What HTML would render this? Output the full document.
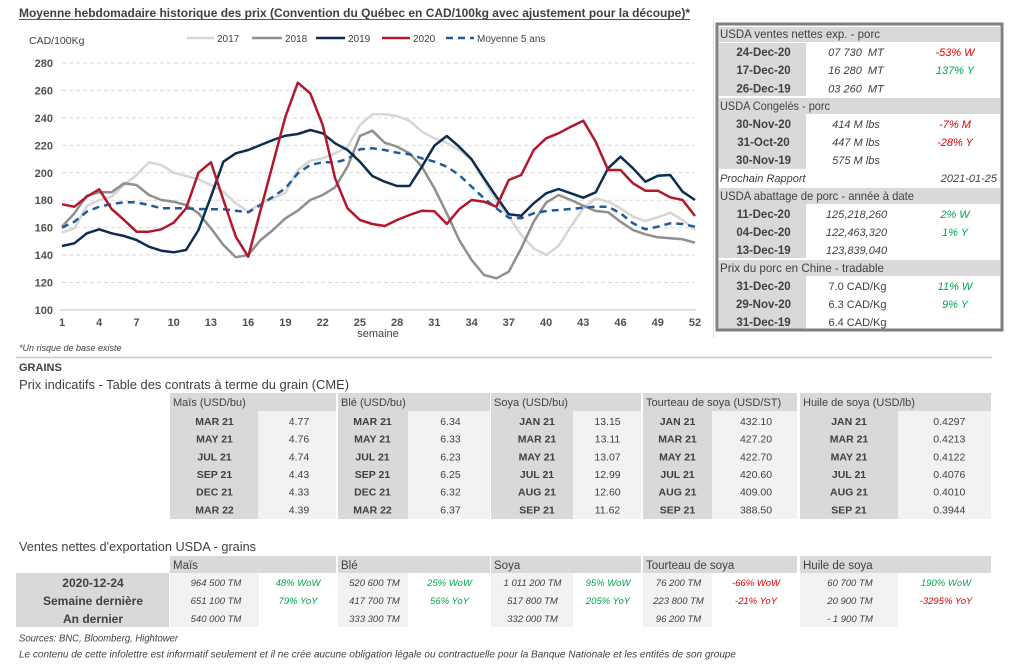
<!DOCTYPE html>
<html><head><meta charset="utf-8">
<style>
html,body{margin:0;padding:0;background:#fff;}
svg{display:block;font-family:"Liberation Sans","DejaVu Sans",sans-serif;}
.t{fill:#404040;}
.d{font-weight:bold;fill:#404040;text-anchor:middle;}
.v{fill:#404040;text-anchor:middle;}
.i{font-style:italic;}
.g{fill:#00a651;}
.r{fill:#e00000;}
</style></head>
<body>
<svg width="1024" height="671" viewBox="0 0 1024 671" xmlns="http://www.w3.org/2000/svg">
<rect x="0" y="0" width="1024" height="671" fill="#fff"/>

<!-- Title -->
<text x="19" y="17" font-size="12" font-weight="bold" class="t" textLength="671" lengthAdjust="spacingAndGlyphs">Moyenne hebdomadaire historique des prix (Convention du Québec en CAD/100kg avec ajustement pour la découpe)*</text>
<line x1="19" y1="19.5" x2="690" y2="19.5" stroke="#595959" stroke-width="1"/>

<!-- Chart -->
<text x="29" y="44" font-size="10.5" class="t">CAD/100Kg</text>
<g stroke="#d9d9d9" stroke-width="1" stroke-dasharray="4 3">
<line x1="62" y1="63" x2="695" y2="63"/>
<line x1="62" y1="90.4" x2="695" y2="90.4"/>
<line x1="62" y1="117.9" x2="695" y2="117.9"/>
<line x1="62" y1="145.3" x2="695" y2="145.3"/>
<line x1="62" y1="172.8" x2="695" y2="172.8"/>
<line x1="62" y1="200.2" x2="695" y2="200.2"/>
<line x1="62" y1="227.6" x2="695" y2="227.6"/>
<line x1="62" y1="255.1" x2="695" y2="255.1"/>
<line x1="62" y1="282.5" x2="695" y2="282.5"/>
</g>
<line x1="60" y1="310" x2="696" y2="310" stroke="#bfbfbf" stroke-width="1"/>
<g font-size="11" font-weight="bold" fill="#505050" text-anchor="end">
<text x="53" y="67">280</text>
<text x="53" y="94.4">260</text>
<text x="53" y="121.9">240</text>
<text x="53" y="149.3">220</text>
<text x="53" y="176.8">200</text>
<text x="53" y="204.2">180</text>
<text x="53" y="231.6">160</text>
<text x="53" y="259.1">140</text>
<text x="53" y="286.5">120</text>
<text x="53" y="314">100</text>
</g>
<g font-size="11" font-weight="bold" fill="#505050" text-anchor="middle">
<text x="62" y="326">1</text>
<text x="99.2" y="326">4</text>
<text x="136.5" y="326">7</text>
<text x="173.7" y="326">10</text>
<text x="210.9" y="326">13</text>
<text x="248.2" y="326">16</text>
<text x="285.4" y="326">19</text>
<text x="322.7" y="326">22</text>
<text x="359.9" y="326">25</text>
<text x="397.1" y="326">28</text>
<text x="434.4" y="326">31</text>
<text x="471.6" y="326">34</text>
<text x="508.8" y="326">37</text>
<text x="546.1" y="326">40</text>
<text x="583.3" y="326">43</text>
<text x="620.5" y="326">46</text>
<text x="657.8" y="326">49</text>
<text x="695" y="326">52</text>
</g>
<text x="378" y="337" font-size="11" class="t" text-anchor="middle">semaine</text>

<!-- Legend -->
<g font-size="10" class="t">
<line x1="187" y1="38" x2="214" y2="38" stroke="#d6d6d6" stroke-width="2.5"/>
<text x="217" y="42">2017</text>
<line x1="252" y1="38" x2="282" y2="38" stroke="#8f8f8f" stroke-width="2.5"/>
<text x="285" y="42">2018</text>
<line x1="316" y1="38" x2="345" y2="38" stroke="#0c2d4f" stroke-width="2.5"/>
<text x="348" y="42">2019</text>
<line x1="382" y1="38" x2="410" y2="38" stroke="#b2182b" stroke-width="2.5"/>
<text x="413" y="42">2020</text>
<line x1="446" y1="38" x2="474" y2="38" stroke="#215c98" stroke-width="2.5" stroke-dasharray="7 5"/>
<text x="477" y="42">Moyenne 5 ans</text>
</g>

<g fill="none" stroke-width="2.5" stroke-linejoin="round" stroke-linecap="butt">
<polyline stroke="#d6d6d6" points="62,232.7 74.4,228.3 86.8,206 99.2,200 111.6,196.7 124.1,185 136.5,175 148.9,162.3 161.3,165 173.7,172.7 186.1,176 198.5,179.3 210.9,185 223.4,191.7 235.8,203.3 248.2,211.7 260.6,203.3 273,198.3 285.4,192.7 297.8,170 310.2,160.7 322.7,158.3 335.1,153.3 347.5,146.7 359.9,125 372.3,114.3 384.7,114.3 397.1,116 409.5,120.7 421.9,131.7 434.4,138.3 446.8,142.7 459.2,150 471.6,160 484,180 496.4,201.7 508.8,216.7 521.2,235 533.7,248.3 546.1,255 558.5,246 570.9,226.7 583.3,208.3 595.7,198.3 608.1,201.7 620.5,208.3 633,216.7 645.4,221 657.8,217.3 670.2,212.7 682.6,220 695,230"/>
<polyline stroke="#8f8f8f" points="62,226.7 74.4,213.3 86.8,195.7 99.2,192.3 111.6,192.3 124.1,183.3 136.5,185 148.9,195 161.3,200 173.7,201.7 186.1,205 198.5,213.3 210.9,228.3 223.4,245 235.8,257.3 248.2,255 260.6,240 273,230 285.4,218.3 297.8,210.7 310.2,200 322.7,195 335.1,187.3 347.5,166.7 359.9,136 372.3,130.7 384.7,142.7 397.1,146.7 409.5,153.3 421.9,166.7 434.4,188.3 446.8,213.3 459.2,240 471.6,260 484,275 496.4,278.3 508.8,271.7 521.2,248.3 533.7,221.7 546.1,202.7 558.5,195 570.9,200 583.3,205.7 595.7,211 608.1,212.3 620.5,221.7 633,230 645.4,234.3 657.8,237.3 670.2,238.3 682.6,239.3 695,242.7"/>
<polyline stroke="#215c98" stroke-dasharray="7 5" points="62,227.7 74.4,221.7 86.8,211.7 99.2,206.7 111.6,204 124.1,202.3 136.5,202.3 148.9,205 161.3,208.3 173.7,208.3 186.1,208.3 198.5,209 210.9,209.3 223.4,209.3 235.8,210.7 248.2,212.3 260.6,205 273,196.7 285.4,188.3 297.8,173.3 310.2,165 322.7,162.3 335.1,162.3 347.5,159.3 359.9,149.3 372.3,148.3 384.7,150 397.1,152.7 409.5,154.3 421.9,158.3 434.4,161.7 446.8,166.7 459.2,175 471.6,186.7 484,198.3 496.4,208.3 508.8,217.7 521.2,218.3 533.7,213.3 546.1,211 558.5,210 570.9,209 583.3,207.7 595.7,206.7 608.1,206.7 620.5,213.3 633,223.3 645.4,229.3 657.8,226.7 670.2,223.3 682.6,224 695,226.7"/>
<polyline stroke="#0c2d4f" points="62,246 74.4,243.3 86.8,233.3 99.2,229.3 111.6,233.3 124.1,236 136.5,240 148.9,246.7 161.3,250.7 173.7,252.3 186.1,250 198.5,230 210.9,196.7 223.4,161.7 235.8,153.3 248.2,150 260.6,145 273,140 285.4,135.7 297.8,134 310.2,130 322.7,133.3 335.1,143.3 347.5,150 359.9,161.7 372.3,176 384.7,181.7 397.1,186 409.5,186 421.9,166.7 434.4,145.7 446.8,136 459.2,146.7 471.6,159.3 484,178.3 496.4,196.7 508.8,214.3 521.2,215.7 533.7,203.3 546.1,193.3 558.5,189 570.9,193.3 583.3,197.7 595.7,192.3 608.1,168.3 620.5,156.7 633,168.3 645.4,181.7 657.8,175.7 670.2,175 682.6,191.7 695,200"/>
<polyline stroke="#b2182b" points="62,204.3 74.4,206.7 86.8,196.7 99.2,189.3 111.6,209 124.1,220 136.5,231.7 148.9,231.7 161.3,229.3 173.7,222.7 186.1,208.3 198.5,172.7 210.9,162.3 223.4,200 235.8,236.7 248.2,256.7 260.6,210 273,163.3 285.4,116.7 297.8,82.7 310.2,93.3 322.7,125 335.1,178.3 347.5,208.3 359.9,220 372.3,224 384.7,226 397.1,220 409.5,215 421.9,210.7 434.4,211.3 446.8,224 459.2,209.3 471.6,200 484,201.7 496.4,206.7 508.8,180 521.2,175 533.7,150 546.1,138.3 558.5,133.3 570.9,126.7 583.3,120.7 595.7,141.7 608.1,170 620.5,170 633,183.3 645.4,190.7 657.8,190.7 670.2,197.3 682.6,200 695,216"/>
</g>

<!-- Right panel -->
<line x1="713.5" y1="20" x2="713.5" y2="338" stroke="#f2d4d4" stroke-width="1"/>
<g fill="#d9d9d9">
<rect x="719" y="27" width="281" height="15"/>
<rect x="719" y="43" width="87" height="53"/>
<rect x="719" y="98" width="281" height="16"/>
<rect x="719" y="114" width="87" height="55"/>
<rect x="719" y="188" width="281" height="16"/>
<rect x="719" y="204" width="87" height="54"/>
<rect x="719" y="260" width="281" height="16"/>
<rect x="719" y="276" width="87" height="54"/>
</g>
<rect x="717" y="24" width="285" height="306" fill="none" stroke="#7f7f7f" stroke-width="3"/>
<g font-size="12" class="t">
<text x="720" y="38" textLength="160" lengthAdjust="spacingAndGlyphs">USDA ventes nettes exp. - porc</text>
<text x="720" y="110" textLength="110" lengthAdjust="spacingAndGlyphs">USDA Congelés - porc</text>
<text x="720" y="200" textLength="194" lengthAdjust="spacingAndGlyphs">USDA abattage de porc - année à date</text>
<text x="720" y="272" textLength="164" lengthAdjust="spacingAndGlyphs">Prix du porc en Chine - tradable</text>
</g>
<g font-size="11.5">
<text x="763.5" y="56" class="d">24-Dec-20</text>
<text x="763.5" y="74" class="d">17-Dec-20</text>
<text x="763.5" y="92.5" class="d">26-Dec-19</text>
<text x="763.5" y="128" class="d">30-Nov-20</text>
<text x="763.5" y="146" class="d">31-Oct-20</text>
<text x="763.5" y="164" class="d">30-Nov-19</text>
<text x="763.5" y="218" class="d">11-Dec-20</text>
<text x="763.5" y="236" class="d">04-Dec-20</text>
<text x="763.5" y="254" class="d">13-Dec-19</text>
<text x="763.5" y="290" class="d">31-Dec-20</text>
<text x="763.5" y="308" class="d">29-Nov-20</text>
<text x="763.5" y="326" class="d">31-Dec-19</text>
</g>
<g font-size="11">
<text x="856" y="56" class="v i" xml:space="preserve">07 730  MT</text>
<text x="856" y="74" class="v i" xml:space="preserve">16 280  MT</text>
<text x="856" y="92.5" class="v i" xml:space="preserve">03 260  MT</text>
<text x="856" y="128" class="v i">414 M lbs</text>
<text x="856" y="146" class="v i">447 M lbs</text>
<text x="856" y="164" class="v i">575 M lbs</text>
<text x="856.5" y="218" class="v i">125,218,260</text>
<text x="856.5" y="236" class="v i">122,463,320</text>
<text x="856.5" y="254" class="v i">123,839,040</text>
<text x="857.5" y="290" class="v">7.0 CAD/Kg</text>
<text x="857.5" y="308" class="v">6.3 CAD/Kg</text>
<text x="857.5" y="326" class="v">6.4 CAD/Kg</text>
<text x="955" y="56" class="i r" text-anchor="middle">-53% W</text>
<text x="955" y="74" class="i g" text-anchor="middle">137% Y</text>
<text x="955" y="128" class="i r" text-anchor="middle">-7% M</text>
<text x="955" y="146" class="i r" text-anchor="middle">-28% Y</text>
<text x="955" y="218" class="i g" text-anchor="middle">2% W</text>
<text x="955" y="236" class="i g" text-anchor="middle">1% Y</text>
<text x="955" y="290" class="i g" text-anchor="middle">11% W</text>
<text x="955" y="308" class="i g" text-anchor="middle">9% Y</text>
<text x="720" y="182" class="t i">Prochain Rapport</text>
<text x="997" y="182" class="t i" text-anchor="end">2021-01-25</text>
</g>

<!-- Below chart -->
<text x="19" y="351" font-size="9" class="t i">*Un risque de base existe</text>
<line x1="16" y1="357.5" x2="992" y2="357.5" stroke="#c8c8c8" stroke-width="1.5"/>
<text x="19" y="371" font-size="11" font-weight="bold" class="t">GRAINS</text>
<text x="19" y="389" font-size="13" class="t" textLength="330" lengthAdjust="spacingAndGlyphs">Prix indicatifs - Table des contrats à terme du grain (CME)</text>

<!-- Grain table -->
<g fill="#d9d9d9">
<rect x="170" y="393" width="166" height="18"/>
<rect x="338" y="393" width="152" height="18"/>
<rect x="491" y="393" width="150" height="18"/>
<rect x="643" y="393" width="154" height="18"/>
<rect x="800" y="393" width="191" height="18"/>
<rect x="170" y="411" width="88.5" height="108"/>
<rect x="338" y="411" width="70" height="108"/>
<rect x="491" y="411" width="82" height="108"/>
<rect x="643" y="411" width="69" height="108"/>
<rect x="800" y="411" width="98" height="108"/>
</g>
<g fill="#f2f2f2">
<rect x="259" y="411" width="77" height="108"/>
<rect x="408" y="411" width="82" height="108"/>
<rect x="573" y="411" width="68" height="108"/>
<rect x="712" y="411" width="85" height="108"/>
<rect x="898" y="411" width="93" height="108"/>
</g>
<g font-size="11" class="t">
<text x="173" y="406">Maïs (USD/bu)</text>
<text x="341" y="406">Blé (USD/bu)</text>
<text x="494" y="406">Soya (USD/bu)</text>
<text x="646" y="406">Tourteau de soya (USD/ST)</text>
<text x="803" y="406">Huile de soya (USD/lb)</text>
</g>
<g font-size="10.5">
<text x="214.5" y="425" class="d">MAR 21</text><text x="299" y="425" class="v">4.77</text>
<text x="214.5" y="442.7" class="d">MAY 21</text><text x="299" y="442.7" class="v">4.76</text>
<text x="214.5" y="460.3" class="d">JUL 21</text><text x="299" y="460.3" class="v">4.74</text>
<text x="214.5" y="478" class="d">SEP 21</text><text x="299" y="478" class="v">4.43</text>
<text x="214.5" y="495.7" class="d">DEC 21</text><text x="299" y="495.7" class="v">4.33</text>
<text x="214.5" y="513.4" class="d">MAR 22</text><text x="299" y="513.4" class="v">4.39</text>

<text x="372.5" y="425" class="d">MAR 21</text><text x="450.5" y="425" class="v">6.34</text>
<text x="372.5" y="442.7" class="d">MAY 21</text><text x="450.5" y="442.7" class="v">6.33</text>
<text x="372.5" y="460.3" class="d">JUL 21</text><text x="450.5" y="460.3" class="v">6.23</text>
<text x="372.5" y="478" class="d">SEP 21</text><text x="450.5" y="478" class="v">6.25</text>
<text x="372.5" y="495.7" class="d">DEC 21</text><text x="450.5" y="495.7" class="v">6.32</text>
<text x="372.5" y="513.4" class="d">MAR 22</text><text x="450.5" y="513.4" class="v">6.37</text>

<text x="537" y="425" class="d">JAN 21</text><text x="607.5" y="425" class="v">13.15</text>
<text x="537" y="442.7" class="d">MAR 21</text><text x="607.5" y="442.7" class="v">13.11</text>
<text x="537" y="460.3" class="d">MAY 21</text><text x="607.5" y="460.3" class="v">13.07</text>
<text x="537" y="478" class="d">JUL 21</text><text x="607.5" y="478" class="v">12.99</text>
<text x="537" y="495.7" class="d">AUG 21</text><text x="607.5" y="495.7" class="v">12.60</text>
<text x="537" y="513.4" class="d">SEP 21</text><text x="607.5" y="513.4" class="v">11.62</text>

<text x="677.5" y="425" class="d">JAN 21</text><text x="756" y="425" class="v">432.10</text>
<text x="677.5" y="442.7" class="d">MAR 21</text><text x="756" y="442.7" class="v">427.20</text>
<text x="677.5" y="460.3" class="d">MAY 21</text><text x="756" y="460.3" class="v">422.70</text>
<text x="677.5" y="478" class="d">JUL 21</text><text x="756" y="478" class="v">420.60</text>
<text x="677.5" y="495.7" class="d">AUG 21</text><text x="756" y="495.7" class="v">409.00</text>
<text x="677.5" y="513.4" class="d">SEP 21</text><text x="756" y="513.4" class="v">388.50</text>

<text x="849" y="425" class="d">JAN 21</text><text x="949.3" y="425" class="v">0.4297</text>
<text x="849" y="442.7" class="d">MAR 21</text><text x="949.3" y="442.7" class="v">0.4213</text>
<text x="849" y="460.3" class="d">MAY 21</text><text x="949.3" y="460.3" class="v">0.4122</text>
<text x="849" y="478" class="d">JUL 21</text><text x="949.3" y="478" class="v">0.4076</text>
<text x="849" y="495.7" class="d">AUG 21</text><text x="949.3" y="495.7" class="v">0.4010</text>
<text x="849" y="513.4" class="d">SEP 21</text><text x="949.3" y="513.4" class="v">0.3944</text>
</g>

<!-- Export table -->
<text x="19" y="551" font-size="13" class="t" textLength="237" lengthAdjust="spacingAndGlyphs">Ventes nettes d'exportation USDA - grains</text>
<g fill="#d9d9d9">
<rect x="170" y="556" width="166" height="17"/>
<rect x="338" y="556" width="152" height="17"/>
<rect x="491" y="556" width="150" height="17"/>
<rect x="643" y="556" width="154" height="17"/>
<rect x="800" y="556" width="191" height="17"/>
<rect x="16" y="573" width="153" height="54"/>
</g>
<g fill="#f2f2f2">
<rect x="170" y="573" width="89" height="54"/>
<rect x="338" y="573" width="70" height="54"/>
<rect x="491" y="573" width="82" height="54"/>
<rect x="643" y="573" width="69" height="54"/>
<rect x="800" y="573" width="98" height="54"/>
</g>
<g font-size="11.5" class="t">
<text x="173" y="569">Maïs</text>
<text x="341" y="569">Blé</text>
<text x="494" y="569">Soya</text>
<text x="646" y="569">Tourteau de soya</text>
<text x="803" y="569">Huile de soya</text>
</g>
<g font-size="12">
<text x="93" y="587" class="d">2020-12-24</text>
<text x="93" y="605" class="d">Semaine dernière</text>
<text x="93" y="623" class="d">An dernier</text>
</g>
<g font-size="9.5">
<text x="216" y="586" class="v i">964 500 TM</text>
<text x="216" y="604" class="v i">651 100 TM</text>
<text x="216" y="622" class="v i">540 000 TM</text>
<text x="298" y="586" class="i g" text-anchor="middle">48% WoW</text>
<text x="298" y="604" class="i g" text-anchor="middle">79% YoY</text>

<text x="374.5" y="586" class="v i">520 600 TM</text>
<text x="374.5" y="604" class="v i">417 700 TM</text>
<text x="374.5" y="622" class="v i">333 300 TM</text>
<text x="449.5" y="586" class="i g" text-anchor="middle">25% WoW</text>
<text x="449.5" y="604" class="i g" text-anchor="middle">56% YoY</text>

<text x="532.5" y="586" class="v i">1 011 200 TM</text>
<text x="532.5" y="604" class="v i">517 800 TM</text>
<text x="532.5" y="622" class="v i">332 000 TM</text>
<text x="608" y="586" class="i g" text-anchor="middle">95% WoW</text>
<text x="608" y="604" class="i g" text-anchor="middle">205% YoY</text>

<text x="678.5" y="586" class="v i">76 200 TM</text>
<text x="678.5" y="604" class="v i">223 800 TM</text>
<text x="678.5" y="622" class="v i">96 200 TM</text>
<text x="756" y="586" class="i r" text-anchor="middle">-66% WoW</text>
<text x="756" y="604" class="i r" text-anchor="middle">-21% YoY</text>

<text x="850" y="586" class="v i">60 700 TM</text>
<text x="850" y="604" class="v i">20 900 TM</text>
<text x="850" y="622" class="v i">- 1 900 TM</text>
<text x="946" y="586" class="i g" text-anchor="middle">190% WoW</text>
<text x="946" y="604" class="i r" text-anchor="middle">-3295% YoY</text>
</g>

<text x="19" y="641.5" font-size="10" class="t i" textLength="159" lengthAdjust="spacingAndGlyphs">Sources: BNC, Bloomberg, Hightower</text>
<text x="19" y="657.5" font-size="10" class="t i" textLength="717" lengthAdjust="spacingAndGlyphs">Le contenu de cette infolettre est informatif seulement et il ne crée aucune obligation légale ou contractuelle pour la Banque Nationale et les entités de son groupe</text>
</svg>
</body></html>
